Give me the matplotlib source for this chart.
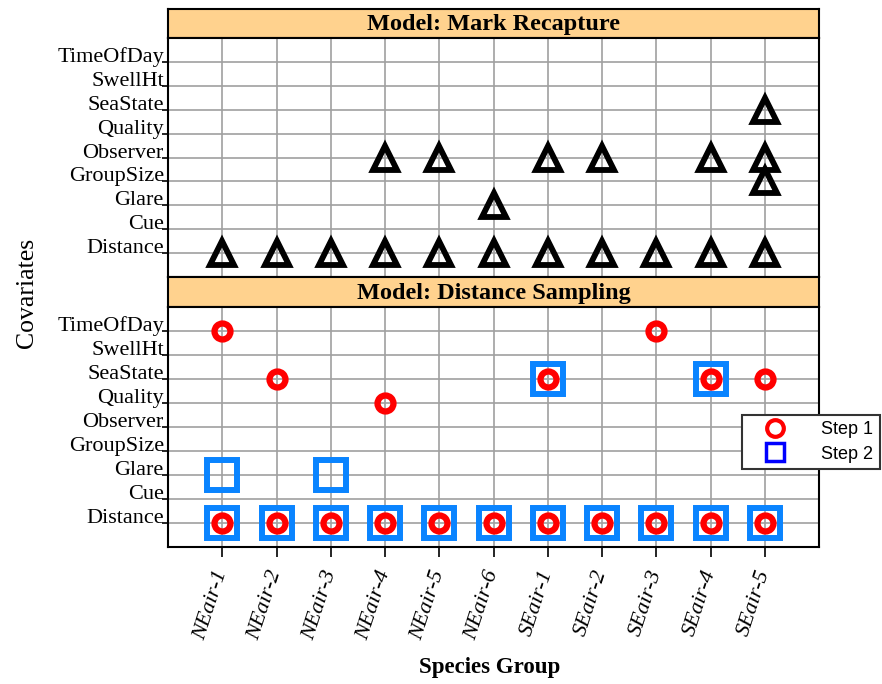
import matplotlib.pyplot as plt
from matplotlib.lines import Line2D

plt.rcParams['font.family'] = 'Liberation Serif'

species = ['NEair-1', 'NEair-2', 'NEair-3', 'NEair-4', 'NEair-5', 'NEair-6',
           'SEair-1', 'SEair-2', 'SEair-3', 'SEair-4', 'SEair-5']
covariates = ['Distance', 'Cue', 'Glare', 'GroupSize', 'Observer',
              'Quality', 'SeaState', 'SwellHt', 'TimeOfDay']

# Mark recapture: covariate -> species that selected it
mr_distance = species
mr_observer = ['NEair-4', 'NEair-5', 'SEair-1', 'SEair-2', 'SEair-4', 'SEair-5']
mr_glare = ['NEair-6']
mr_groupsize = ['SEair-5']
mr_seastate = ['SEair-5']

# Distance sampling, step 1
ds1_distance = species
ds1_timeofday = ['NEair-1', 'SEair-3']
ds1_seastate = ['NEair-2', 'SEair-1', 'SEair-4', 'SEair-5']
ds1_quality = ['NEair-4']

# Distance sampling, step 2
ds2_distance = species
ds2_glare = ['NEair-1', 'NEair-3']
ds2_seastate = ['SEair-1', 'SEair-4']

mr_sel = {'Distance': mr_distance, 'Observer': mr_observer, 'Glare': mr_glare,
          'GroupSize': mr_groupsize, 'SeaState': mr_seastate}
ds1_sel = {'Distance': ds1_distance, 'TimeOfDay': ds1_timeofday,
           'SeaState': ds1_seastate, 'Quality': ds1_quality}
ds2_sel = {'Distance': ds2_distance, 'Glare': ds2_glare, 'SeaState': ds2_seastate}


def points(sel):
    xs, ys = [], []
    for cov, sps in sel.items():
        for s in sps:
            xs.append(species.index(s) + 1)
            ys.append(covariates.index(cov) + 1)
    return xs, ys


fig = plt.figure(figsize=(8.82, 6.84), dpi=100)

W, H = 882.0, 684.0
left, right = 168 / W, 819 / W


def fy(px):
    return 1 - px / H


def make_panel(top, bottom, strip_top, title, show_x):
    sax = fig.add_axes([left, fy(top), right - left, fy(strip_top) - fy(top)])
    sax.set_facecolor('#FFD28E')
    sax.set_xticks([])
    sax.set_yticks([])
    for sp in sax.spines.values():
        sp.set_linewidth(1.5)
    sax.text(0.5, 0.45, title, ha='center', va='center', fontsize=17.5,
             fontweight='bold', transform=sax.transAxes)

    ax = fig.add_axes([left, fy(bottom), right - left, fy(top) - fy(bottom)])
    ax.set_xlim(0, 12)
    ax.set_ylim(0, 10)
    ax.set_xticks(range(1, 12))
    ax.set_yticks(range(1, 10))
    ax.set_yticklabels(covariates, fontsize=16, va='baseline')
    ax.grid(True, color='#a0a0a0', linewidth=1.2)
    ax.set_axisbelow(True)
    ax.tick_params(axis='y', direction='out', length=4, width=1.2, pad=-1)
    if show_x:
        ax.set_xticklabels(species, rotation=72, ha='right', va='center',
                           rotation_mode='anchor', fontsize=16, style='italic')
        ax.tick_params(axis='x', direction='out', length=7, width=1.2, pad=10)
    else:
        ax.tick_params(axis='x', length=0, labelbottom=False)
    for sp in ax.spines.values():
        sp.set_linewidth(1.5)
    return ax


ax1 = make_panel(38, 277, 9, 'Model: Mark Recapture', False)
ax2 = make_panel(307, 547, 277, 'Model: Distance Sampling', True)

x, y = points(mr_sel)
ax1.plot(x, y, linestyle='none', marker='^', markersize=17, markerfacecolor='none',
         markeredgecolor='black', markeredgewidth=4.2, clip_on=False)

x, y = points(ds2_sel)
ax2.plot(x, y, linestyle='none', marker='s', markersize=21, markerfacecolor='none',
         markeredgecolor='#0A84FF', markeredgewidth=4.3, clip_on=False)
x, y = points(ds1_sel)
ax2.plot(x, y, linestyle='none', marker='o', markersize=11.5, markerfacecolor='none',
         markeredgecolor='#FF0000', markeredgewidth=4.5, clip_on=False)

fig.text(27 / W, fy(293), 'Covariates', rotation=90, ha='center', va='center',
         fontsize=18.5)
fig.text(490 / W, fy(667), 'Species Group', ha='center', va='center',
         fontsize=16.5, fontweight='bold')

handles = [
    Line2D([], [], linestyle='none', marker='o', markersize=12, markerfacecolor='none',
           markeredgecolor='#FF0000', markeredgewidth=3),
    Line2D([], [], linestyle='none', marker='s', markersize=13, markerfacecolor='none',
           markeredgecolor='#0000FF', markeredgewidth=2.5),
]
leg = fig.legend(handles, ['Step 1', 'Step 2'], loc='upper left',
                 bbox_to_anchor=(742 / W, fy(415)), fancybox=False,
                 prop={'family': 'Liberation Sans', 'size': 13},
                 handlelength=3.0, handletextpad=1.05, borderpad=0.35,
                 borderaxespad=0, labelspacing=0.4, framealpha=1)
leg.get_frame().set_edgecolor('#333333')
leg.get_frame().set_linewidth(1.5)

fig.savefig('out.png', dpi=100)
